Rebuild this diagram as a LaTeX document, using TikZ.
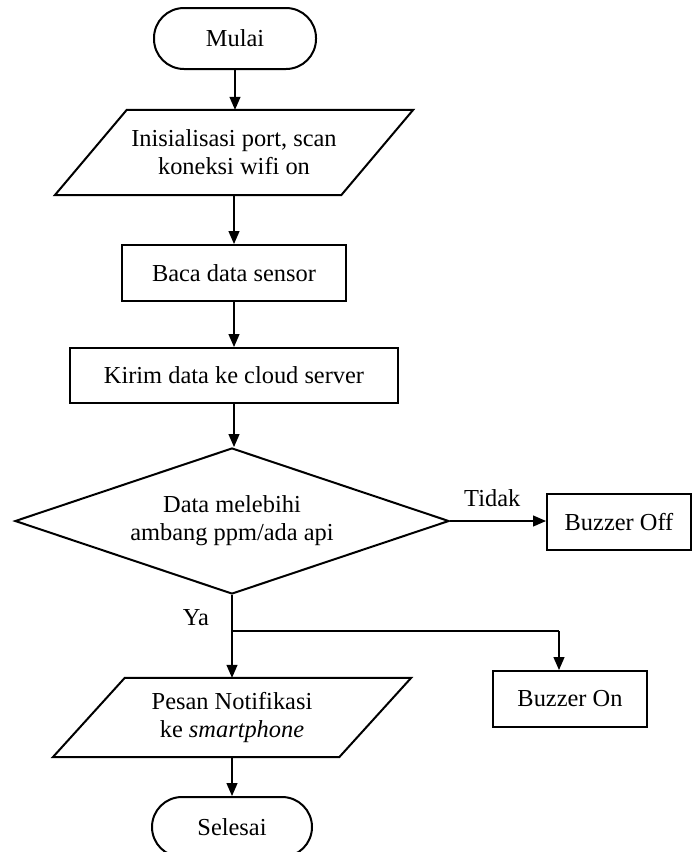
\documentclass[tikz,border=0pt]{standalone}
\usepackage{fontspec}
\setmainfont{Liberation Serif}
\usetikzlibrary{shapes.geometric,arrows.meta,calc}
\begin{document}
\begin{tikzpicture}[x=1pt,y=-1pt,
  every node/.style={font=\fontsize{24.4}{28}\selectfont, align=center, inner sep=0pt},
  term/.style={draw, line width=2pt, rounded corners=30pt, minimum width=162pt, minimum height=61pt},
  procbox/.style={draw, line width=2pt, minimum height=56pt},
  iobody/.style={minimum width=214pt},
  iopoly/.style={line width=2pt, line join=miter},
  decision/.style={draw, diamond, line width=2pt, minimum width=434pt, minimum height=146pt, shape aspect=2.97},
  arr/.style={line width=1.3pt, -{Triangle[length=13pt,width=11pt]}},
  plainline/.style={line width=1.3pt}
]
\clip (0,0) rectangle (692,852);

\node[term] (mulai) at (235,38.5) {Mulai};

\node[iobody, minimum height=85pt] (p1) at (234,152.5) {Inisialisasi port, scan\\koneksi wifi on};
\draw[iopoly] (p1.north west) -- ([xshift=72pt]p1.north east) -- (p1.south east) -- ([xshift=-72pt]p1.south west) -- cycle;

\node[procbox, minimum width=224pt] (baca) at (234,273) {Baca data sensor};
\node[procbox, minimum width=328pt, minimum height=55pt] (kirim) at (234,375.5) {Kirim data ke cloud server};

\node[decision] (dec) at (232,521) {Data melebihi\\ambang ppm/ada api};

\node[procbox, minimum width=144pt] (boff) at (619,522) {Buzzer Off};
\node[procbox, minimum width=154pt] (bon) at (570,699) {Buzzer On};

\node[iobody, minimum height=79pt] (pesan) at (232,717.5) {Pesan Notifikasi\\ke \textit{smartphone}};
\draw[iopoly] (pesan.north west) -- ([xshift=72pt]pesan.north east) -- (pesan.south east) -- ([xshift=-72pt]pesan.south west) -- cycle;

\node[term, minimum width=160pt, minimum height=60pt] (selesai) at (232,827) {Selesai};

\coordinate (br) at (232,631);
\coordinate (bc) at (559,631);

\draw[arr] (mulai.south) -- (mulai.south |- p1.north);
\draw[arr] (p1.south) -- (baca.north);
\draw[arr] (baca.south) -- (kirim.north);
\draw[arr] (kirim.south) -- (kirim.south |- dec.north);
\draw[arr] (dec.east) -- (dec.east -| boff.west) node[pos=0.44, above=14pt] {Tidak};
\draw[arr] (dec.south) -- (dec.south |- pesan.north);
\node at (196,618) {Ya};
\draw[plainline] (br) -- (bc);
\draw[arr] (bc) -- (bc |- bon.north);
\draw[arr] (pesan.south) -- (selesai.north);
\end{tikzpicture}
\end{document}
